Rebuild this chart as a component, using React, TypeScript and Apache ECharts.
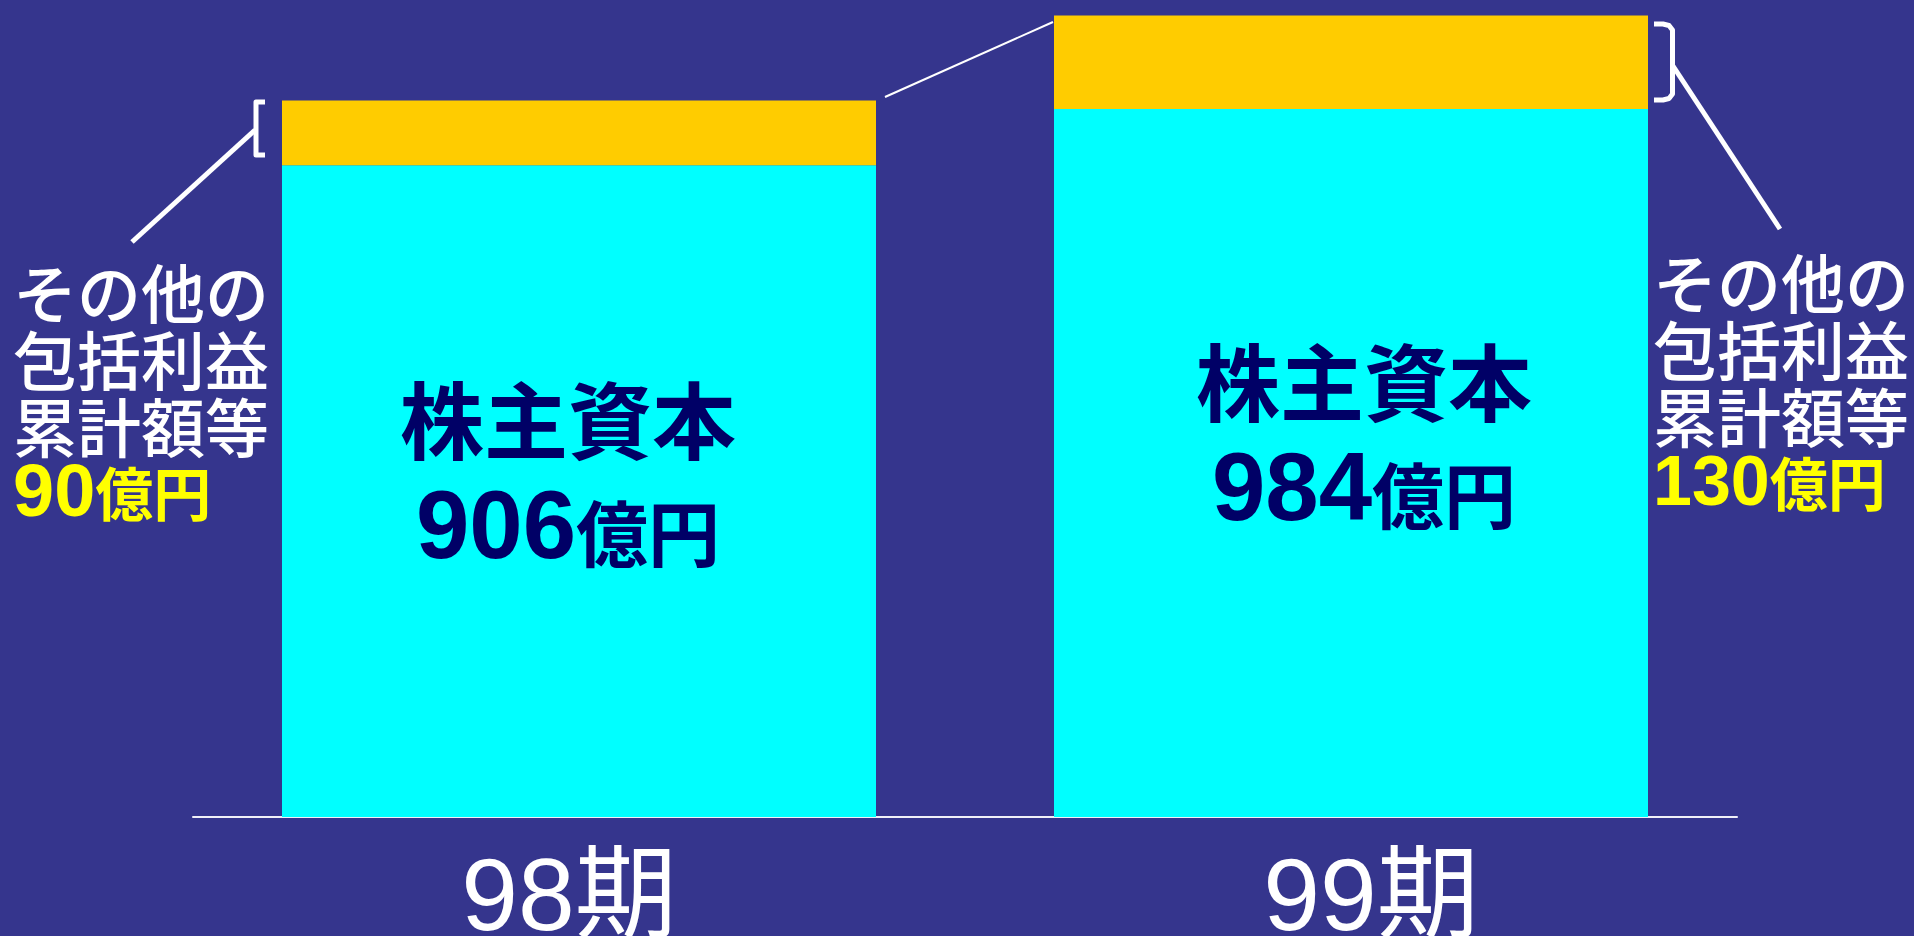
import React, { useEffect, useRef } from "react";
import * as echarts from "echarts";

const categories = ["98期", "99期"];
const equity = [906, 984];
const otherIncome = [90, 130];
const leftNote = ["その他の", "包括利益", "累計額等"];
const rightNote = ["その他の", "包括利益", "累計額等"];

const BG = "#35358D";
const NAVY = "#000066";
const JP = "'Noto Sans CJK JP', 'Noto Sans CJK SC', sans-serif";
const LAT = "'Liberation Sans', Arial, 'Noto Sans CJK JP', sans-serif";

const labelOffsets = [
  [-11, -21],
  [13, -31],
];
// horizontal shift of each category label (padding left/right)
const catLabelPadding = [
  [0, 20, 0, 0],
  [0, 0, 0, 40],
];

function noteText(lines: string[], value: number) {
  return lines.map((l) => `{w|${l}}`).join("\n") + `\n{n|${value}}{u|億円}`;
}

function noteRich(numSize: number, unitSize: number) {
  return {
    w: { fontSize: 64, lineHeight: 67, fontWeight: 500, fontFamily: JP, fill: "#FFFFFF", color: "#FFFFFF" },
    n: { fontSize: numSize, lineHeight: 67, fontWeight: "bold", fontFamily: LAT, fill: "#FFFF00", color: "#FFFF00" },
    u: { fontSize: unitSize, lineHeight: 67, fontWeight: "bold", fontFamily: JP, fill: "#FFFF00", color: "#FFFF00" },
  };
}

export default function App() {
  const ref = useRef<HTMLDivElement>(null);
  useEffect(() => {
    if (!ref.current) return;
    const chart = echarts.init(ref.current, undefined, { renderer: "svg" });
    chart.setOption({
      animation: false,
      backgroundColor: BG,
      grid: {
        left: 193,
        right: 177,
        top: 4,
        bottom: 119,
        containLabel: false,
        outerBoundsMode: "none",
      },
      xAxis: {
        type: "category",
        data: categories.map((c, i) => ({
          value: c,
          textStyle: { padding: catLabelPadding[i] },
        })),
        axisTick: { show: false },
        axisLine: { show: true, lineStyle: { color: "#F0F0F8", width: 2 } },
        axisLabel: {
          color: "#FFFFFF",
          fontSize: 102,
          fontFamily: LAT,
          margin: 27,
        },
      },
      yAxis: {
        type: "value",
        min: 0,
        max: 1130,
        show: false,
        splitLine: { show: false },
      },
      series: [
        {
          type: "bar",
          stack: "total",
          barWidth: 594,
          itemStyle: { color: "#00FFFF" },
          data: equity.map((v, i) => ({
            value: v,
            label: { offset: labelOffsets[i] },
          })),
          label: {
            show: true,
            position: "inside",
            formatter: (p: any) => `{t|株主資本}\n{n|${p.value}}{u|億円}`,
            rich: {
              t: { fontSize: 84, fontWeight: "bold", fontFamily: JP, color: NAVY, lineHeight: 108 },
              n: { fontSize: 96, fontWeight: "bold", fontFamily: LAT, color: NAVY, lineHeight: 108 },
              u: { fontSize: 72, fontWeight: "bold", fontFamily: JP, color: NAVY, lineHeight: 108, padding: [10, 0, 0, 0] },
            },
          },
        },
        {
          type: "bar",
          stack: "total",
          barWidth: 594,
          itemStyle: { color: "#FFCC00" },
          data: otherIncome,
        },
      ],
      graphic: [
        {
          type: "line",
          shape: { x1: 885, y1: 97, x2: 1053, y2: 22 },
          style: { stroke: "#FFFFFF", lineWidth: 2 },
        },
        {
          type: "polyline",
          shape: { points: [[265, 102], [256, 102], [256, 155], [265, 155]] },
          style: { stroke: "#FFFFFF", lineWidth: 5, fill: null, lineJoin: "round" },
        },
        {
          type: "line",
          shape: { x1: 255, y1: 130, x2: 132, y2: 242 },
          style: { stroke: "#FFFFFF", lineWidth: 5 },
        },
        {
          type: "polyline",
          shape: {
            points: [
              [1654, 24], [1663, 24], [1669, 25.5], [1672.5, 30], [1672.5, 94],
              [1669, 98.5], [1663, 100], [1654, 100],
            ],
          },
          style: { stroke: "#FFFFFF", lineWidth: 5, fill: null, lineJoin: "round" },
        },
        {
          type: "line",
          shape: { x1: 1673, y1: 66, x2: 1780, y2: 229 },
          style: { stroke: "#FFFFFF", lineWidth: 5 },
        },
        {
          type: "text",
          x: 13,
          y: 256,
          style: {
            text: noteText(leftNote, otherIncome[0]),
            rich: noteRich(74, 58),
            align: "left",
            verticalAlign: "top",
            fill: "#FFFFFF",
          },
        },
        {
          type: "text",
          x: 1653,
          y: 246,
          style: {
            text: noteText(rightNote, otherIncome[1]),
            rich: noteRich(70, 58),
            align: "left",
            verticalAlign: "top",
            fill: "#FFFFFF",
          },
        },
      ],
    });
    return () => chart.dispose();
  }, []);
  return (
    <div
      ref={ref}
      style={{ position: "fixed", left: 0, top: 0, width: 1914, height: 936 }}
    />
  );
}
